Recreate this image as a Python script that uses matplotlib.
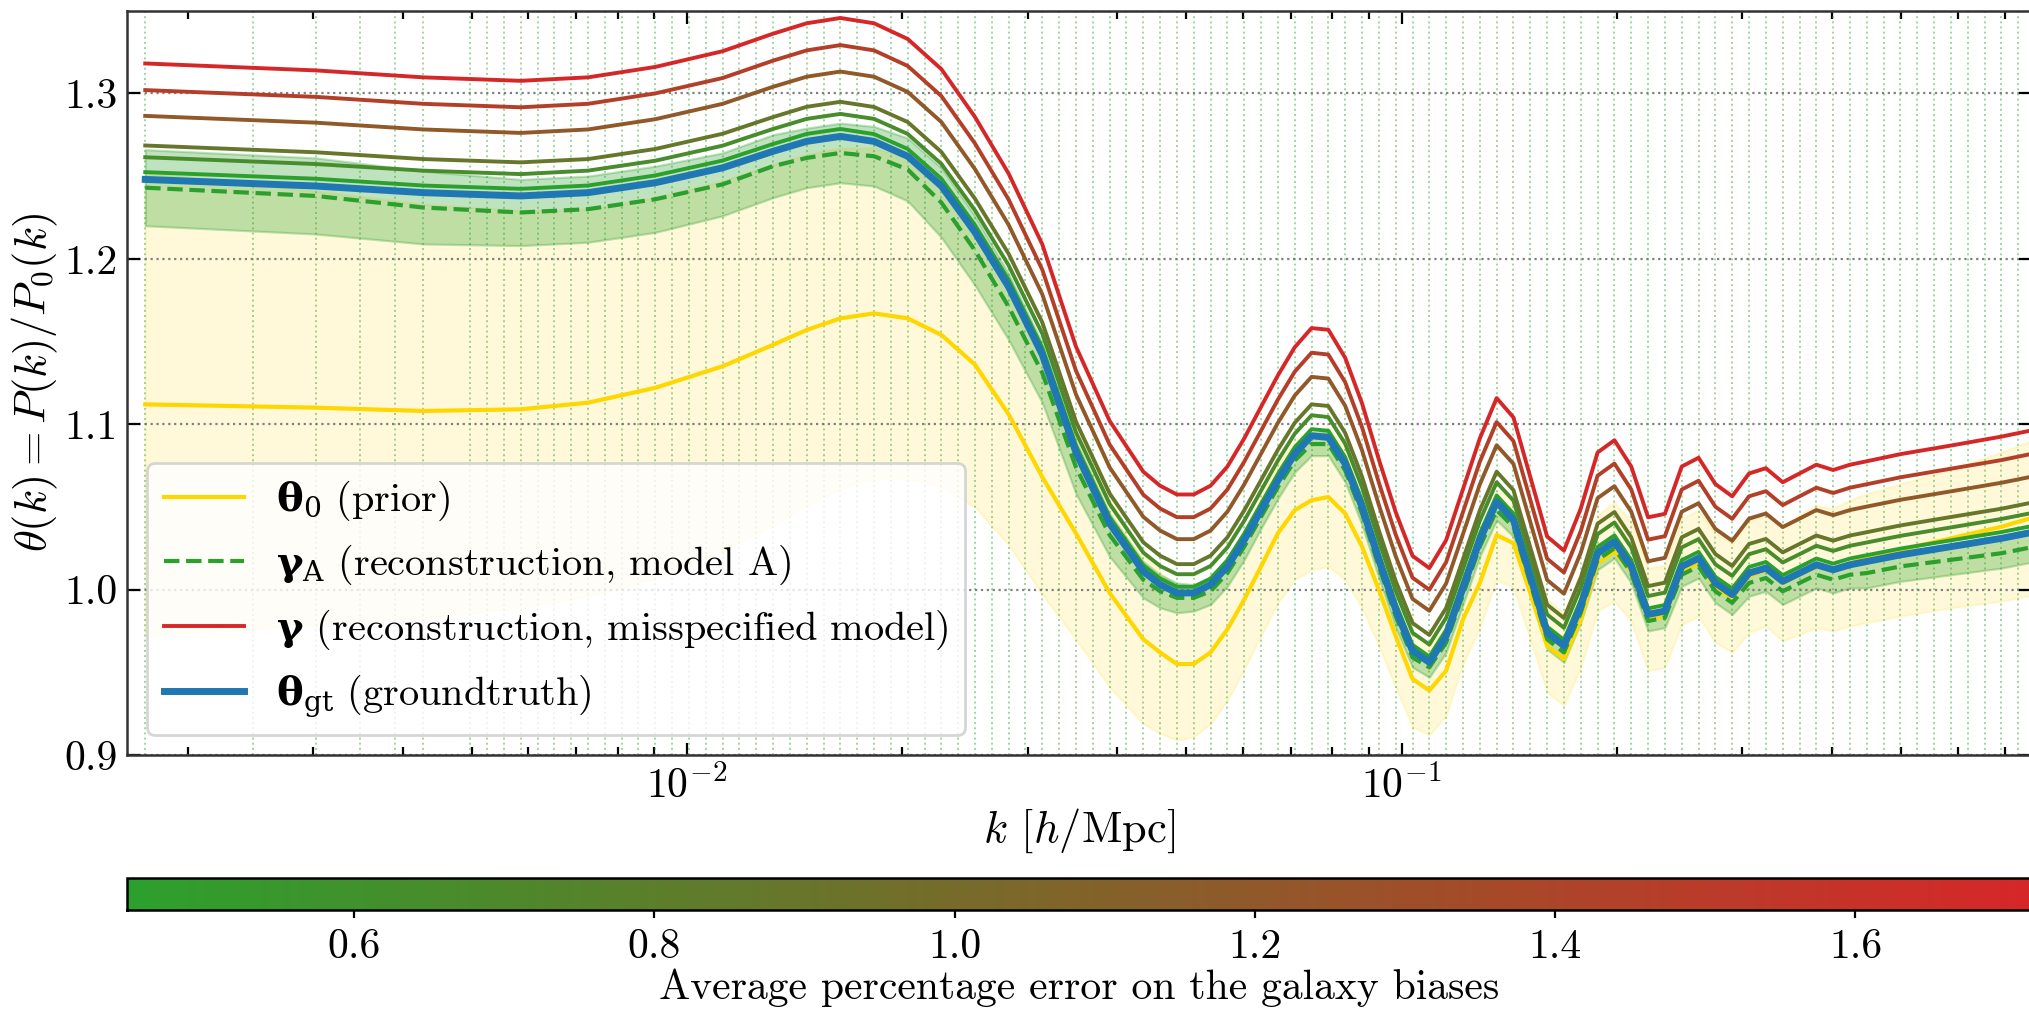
import numpy as np
import matplotlib.pyplot as plt
from matplotlib.colors import LinearSegmentedColormap, Normalize
from matplotlib.cm import ScalarMappable
from matplotlib.ticker import FormatStrFormatter

plt.rcParams['font.family'] = 'serif'
plt.rcParams['font.serif'] = ['cmr10']
plt.rcParams['mathtext.fontset'] = 'cm'
plt.rcParams['axes.formatter.use_mathtext'] = True

# k-bins of the power spectrum (h/Mpc), every bin gets a dotted guide line
k_grid = [0.001745, 0.002468, 0.003023, 0.003491, 0.003903, 0.004275,
          0.004973, 0.005250, 0.005543, 0.005852, 0.006178, 0.006522, 0.006885, 0.007269, 0.007674, 0.008101,
          0.008553, 0.009029, 0.009532, 0.010063, 0.010624, 0.011216, 0.011841, 0.012501, 0.013197, 0.013933,
          0.014709, 0.015529, 0.016394, 0.017308, 0.018272, 0.019290, 0.020365, 0.021500, 0.022698, 0.023963,
          0.025298, 0.026708, 0.028196, 0.029767, 0.031426, 0.033177, 0.035026, 0.036978, 0.039038, 0.041213,
          0.043510, 0.045934, 0.048494, 0.051196, 0.054049, 0.057061, 0.060240, 0.063597, 0.067141, 0.070882,
          0.074832, 0.079002, 0.083404, 0.088052, 0.092958, 0.098138, 0.103607, 0.109380, 0.115475, 0.121910,
          0.128703, 0.135875, 0.143446, 0.151439, 0.159878, 0.168787, 0.178192, 0.188122, 0.198604, 0.209671,
          0.221355, 0.233690, 0.246712, 0.260459, 0.274973, 0.290295, 0.306471, 0.323549, 0.341578, 0.360612,
          0.380707, 0.401921, 0.424317, 0.447961, 0.472923, 0.499276, 0.527097, 0.556468, 0.587476, 0.620212,
          0.654772, 0.691258, 0.729777, 0.770442]

# k values where the curves are drawn
k = [0.001745, 0.003023, 0.004275, 0.005852, 0.007269, 0.009029, 0.011216, 0.013197, 0.014709, 0.016394,
     0.018272, 0.020365, 0.022698, 0.025298, 0.028196, 0.031426, 0.035026, 0.039038, 0.043510, 0.045934,
     0.048494, 0.051196, 0.054049, 0.057061, 0.060240, 0.063597, 0.067141, 0.070882, 0.074832, 0.079002,
     0.083404, 0.088052, 0.092958, 0.098138, 0.103607, 0.109380, 0.115475, 0.121910, 0.128703, 0.135875,
     0.143446, 0.151439, 0.159878, 0.168787, 0.178192, 0.188122, 0.198604, 0.209671, 0.221355, 0.233690,
     0.246712, 0.260459, 0.274973, 0.290295, 0.306471, 0.323549, 0.341578, 0.360612, 0.380707, 0.401921,
     0.424317, 0.447961, 0.499276, 0.587476, 0.691258, 0.770442]

theta_gt = [1.248, 1.244, 1.240, 1.238, 1.240, 1.246, 1.255, 1.265, 1.271, 1.274, 1.271, 1.262, 1.244, 1.216, 1.183,
            1.142, 1.083, 1.040, 1.011, 1.003, 0.998, 0.998, 1.003, 1.014, 1.030, 1.048, 1.066, 1.082, 1.093, 1.092,
            1.076, 1.050, 1.018, 0.988, 0.963, 0.956, 0.972, 1.001, 1.030, 1.053, 1.042, 1.008, 0.974, 0.966, 0.990,
            1.022, 1.029, 1.014, 0.985, 0.987, 1.014, 1.019, 1.004, 0.997, 1.010, 1.013, 1.005, 1.010, 1.015, 1.012,
            1.015, 1.017, 1.021, 1.026, 1.031, 1.035]

theta_prior = [1.112, 1.110, 1.108, 1.109, 1.113, 1.122, 1.135, 1.148, 1.157, 1.164, 1.167, 1.164, 1.154, 1.136, 1.106,
               1.068, 1.034, 0.998, 0.970, 0.962, 0.955, 0.955, 0.962, 0.976, 0.994, 1.014, 1.034, 1.048, 1.054, 1.056,
               1.046, 1.026, 1.000, 0.972, 0.946, 0.939, 0.951, 0.982, 1.004, 1.033, 1.028, 0.998, 0.966, 0.958, 0.982,
               1.016, 1.023, 1.011, 0.982, 0.984, 1.011, 1.016, 1.001, 0.995, 1.008, 1.012, 1.004, 1.009, 1.014, 1.012,
               1.016, 1.019, 1.024, 1.031, 1.038, 1.044]

prior_std = [0.140, 0.131, 0.125, 0.120, 0.117, 0.115, 0.112, 0.109, 0.106, 0.103, 0.100, 0.097, 0.092, 0.086, 0.079,
             0.071, 0.064, 0.057, 0.051, 0.049, 0.046, 0.044, 0.043, 0.043, 0.042, 0.042, 0.042, 0.042, 0.042, 0.042,
             0.040, 0.037, 0.034, 0.031, 0.029, 0.027, 0.027, 0.027, 0.027, 0.027, 0.027, 0.028, 0.028, 0.028, 0.029,
             0.029, 0.030, 0.030, 0.031, 0.031, 0.032, 0.032, 0.033, 0.033, 0.034, 0.034, 0.035, 0.036, 0.037, 0.037,
             0.038, 0.039, 0.040, 0.042, 0.045, 0.047]

gamma_A = [1.243, 1.238, 1.231, 1.228, 1.230, 1.236, 1.245, 1.256, 1.261, 1.264, 1.262, 1.254, 1.234, 1.205, 1.171,
           1.131, 1.074, 1.033, 1.006, 0.999, 0.995, 0.995, 0.999, 1.010, 1.026, 1.044, 1.062, 1.078, 1.088, 1.088,
           1.072, 1.046, 1.014, 0.984, 0.959, 0.953, 0.968, 0.997, 1.026, 1.048, 1.038, 1.004, 0.970, 0.962, 0.986,
           1.018, 1.025, 1.010, 0.981, 0.983, 1.009, 1.014, 0.999, 0.992, 1.004, 1.007, 0.999, 1.004, 1.009, 1.006,
           1.009, 1.010, 1.014, 1.018, 1.022, 1.026]

gamma_A_std = [0.023, 0.023, 0.022, 0.020, 0.020, 0.020, 0.019, 0.019, 0.018, 0.018, 0.018, 0.019, 0.021, 0.021, 0.020,
               0.018, 0.016, 0.013, 0.011, 0.010, 0.009, 0.008, 0.008, 0.008, 0.008, 0.007, 0.007, 0.007, 0.007, 0.007,
               0.007, 0.007, 0.007, 0.007, 0.006, 0.006, 0.006, 0.006, 0.006, 0.006, 0.006, 0.006, 0.006, 0.006, 0.006,
               0.006, 0.006, 0.006, 0.006, 0.006, 0.007, 0.007, 0.007, 0.007, 0.008, 0.008, 0.008, 0.008, 0.008, 0.008,
               0.008, 0.009, 0.009, 0.009, 0.009, 0.009]

# reconstructions with misspecified galaxy biases, one per bias error level (%)
bias_errors = [0.449, 0.66, 0.88, 1.20, 1.46, 1.717]

gamma_e045 = [1.2524, 1.2484, 1.2443, 1.2423, 1.2443, 1.2504, 1.2594, 1.2694, 1.2755, 1.2785, 1.2754, 1.2664, 1.2484, 1.2203, 1.1873,
              1.1461, 1.0870, 1.0438, 1.0147, 1.0067, 1.0017, 1.0017, 1.0067, 1.0178, 1.0338, 1.0519, 1.0699, 1.0860, 1.0970, 1.0960,
              1.0800, 1.0539, 1.0218, 0.9917, 0.9666, 0.9595, 0.9756, 1.0047, 1.0338, 1.0569, 1.0459, 1.0117, 0.9776, 0.9696, 0.9937,
              1.0258, 1.0328, 1.0178, 0.9886, 0.9907, 1.0178, 1.0228, 1.0077, 1.0007, 1.0137, 1.0167, 1.0087, 1.0137, 1.0188, 1.0157,
              1.0188, 1.0208, 1.0248, 1.0298, 1.0348, 1.0388]

gamma_e066 = [1.2614, 1.2573, 1.2533, 1.2512, 1.2533, 1.2593, 1.2684, 1.2785, 1.2846, 1.2876, 1.2846, 1.2755, 1.2574, 1.2293, 1.1960,
              1.1547, 1.0951, 1.0518, 1.0224, 1.0143, 1.0093, 1.0093, 1.0143, 1.0255, 1.0416, 1.0598, 1.0780, 1.0942, 1.1054, 1.1043,
              1.0882, 1.0619, 1.0295, 0.9992, 0.9739, 0.9668, 0.9830, 1.0123, 1.0416, 1.0649, 1.0538, 1.0194, 0.9850, 0.9769, 1.0012,
              1.0335, 1.0406, 1.0255, 0.9961, 0.9982, 1.0255, 1.0305, 1.0153, 1.0083, 1.0214, 1.0244, 1.0164, 1.0214, 1.0265, 1.0234,
              1.0265, 1.0285, 1.0325, 1.0376, 1.0427, 1.0467]

gamma_e088 = [1.2685, 1.2644, 1.2603, 1.2583, 1.2603, 1.2664, 1.2756, 1.2857, 1.2919, 1.2949, 1.2918, 1.2827, 1.2646, 1.2363, 1.2030,
              1.1615, 1.1016, 1.0581, 1.0286, 1.0205, 1.0154, 1.0154, 1.0205, 1.0316, 1.0479, 1.0662, 1.0845, 1.1008, 1.1120, 1.1110,
              1.0947, 1.0683, 1.0357, 1.0052, 0.9798, 0.9726, 0.9889, 1.0184, 1.0479, 1.0713, 1.0601, 1.0255, 0.9909, 0.9828, 1.0072,
              1.0398, 1.0469, 1.0316, 1.0021, 1.0042, 1.0316, 1.0367, 1.0215, 1.0143, 1.0276, 1.0306, 1.0225, 1.0276, 1.0327, 1.0296,
              1.0327, 1.0347, 1.0388, 1.0439, 1.0489, 1.0530]

gamma_e120 = [1.2864, 1.2823, 1.2782, 1.2761, 1.2782, 1.2844, 1.2937, 1.3040, 1.3101, 1.3132, 1.3101, 1.3009, 1.2827, 1.2542, 1.2205,
              1.1785, 1.1180, 1.0739, 1.0440, 1.0357, 1.0305, 1.0305, 1.0357, 1.0471, 1.0636, 1.0822, 1.1008, 1.1173, 1.1286, 1.1276,
              1.1111, 1.0842, 1.0512, 1.0202, 0.9944, 0.9872, 1.0037, 1.0336, 1.0636, 1.0873, 1.0760, 1.0409, 1.0058, 0.9975, 1.0223,
              1.0553, 1.0625, 1.0471, 1.0171, 1.0192, 1.0471, 1.0522, 1.0367, 1.0295, 1.0429, 1.0460, 1.0378, 1.0429, 1.0481, 1.0450,
              1.0481, 1.0502, 1.0543, 1.0594, 1.0646, 1.0687]

gamma_e146 = [1.3020, 1.2979, 1.2937, 1.2916, 1.2937, 1.3000, 1.3093, 1.3198, 1.3260, 1.3292, 1.3260, 1.3166, 1.2984, 1.2697, 1.2358,
              1.1934, 1.1323, 1.0877, 1.0574, 1.0490, 1.0438, 1.0438, 1.0490, 1.0605, 1.0773, 1.0961, 1.1149, 1.1317, 1.1432, 1.1421,
              1.1254, 1.0982, 1.0647, 1.0333, 1.0072, 0.9999, 1.0166, 1.0469, 1.0773, 1.1013, 1.0898, 1.0543, 1.0187, 1.0103, 1.0354,
              1.0689, 1.0762, 1.0605, 1.0302, 1.0323, 1.0605, 1.0658, 1.0501, 1.0428, 1.0564, 1.0595, 1.0511, 1.0564, 1.0616, 1.0584,
              1.0616, 1.0637, 1.0679, 1.0731, 1.0783, 1.0825]

gamma_e172 = [1.3181, 1.3139, 1.3097, 1.3076, 1.3097, 1.3160, 1.3255, 1.3361, 1.3424, 1.3456, 1.3424, 1.3329, 1.3147, 1.2857, 1.2515,
              1.2087, 1.1469, 1.1020, 1.0713, 1.0628, 1.0575, 1.0575, 1.0628, 1.0744, 1.0914, 1.1105, 1.1295, 1.1465, 1.1581, 1.1571,
              1.1401, 1.1126, 1.0787, 1.0469, 1.0204, 1.0130, 1.0299, 1.0607, 1.0914, 1.1158, 1.1041, 1.0681, 1.0321, 1.0236, 1.0490,
              1.0829, 1.0903, 1.0744, 1.0437, 1.0458, 1.0744, 1.0797, 1.0638, 1.0564, 1.0702, 1.0734, 1.0649, 1.0702, 1.0755, 1.0723,
              1.0755, 1.0776, 1.0819, 1.0871, 1.0925, 1.0967]

misspecified = [gamma_e045, gamma_e066, gamma_e088, gamma_e120, gamma_e146, gamma_e172]

cmap = LinearSegmentedColormap.from_list('green_red', ['#2ca02c', '#d62728'])
norm = Normalize(vmin=min(bias_errors), vmax=max(bias_errors))

fig = plt.figure(figsize=(2029 / 200, 1010 / 200), dpi=200)
ax = fig.add_axes([0.06274, 0.25248, 0.9383, 0.73693])

for kb in k_grid:
    ax.axvline(kb, color='#2ca02c', ls=':', lw=0.7, alpha=0.45, zorder=1.6)

prior = np.array(theta_prior)
sig_p = np.array(prior_std)
gA = np.array(gamma_A)
sig_A = np.array(gamma_A_std)

ax.fill_between(k, prior - sig_p, prior + sig_p, color='gold', alpha=0.15, lw=0.8, zorder=1)
ax.fill_between(k, gA - sig_A, gA + sig_A, color='#2ca02c', alpha=0.3, lw=0.8, zorder=1.1)

ax.plot(k, theta_prior, color='gold', lw=1.5, label=r'$\mathbf{\theta}_0$ (prior)')
ax.plot(k, gamma_A, color='#2ca02c', lw=1.5, ls='--', zorder=2.6,
        label=r'$\mathbf{\gamma}_\mathrm{A}$ (reconstruction, model A)')
for err, curve in zip(bias_errors, misspecified):
    lab = r'$\mathbf{\gamma}$ (reconstruction, misspecified model)' if err == max(bias_errors) else None
    ax.plot(k, curve, color=cmap(norm(err)), lw=1.4, label=lab)
ax.plot(k, theta_gt, color='#1f77b4', lw=2.5, zorder=3, label=r'$\mathbf{\theta}_\mathrm{gt}$ (groundtruth)')

ax.set_xscale('log')
ax.set_xlim(0.001647, 0.7606)
ax.set_ylim(0.9, 1.35)
ax.set_yticks([0.9, 1.0, 1.1, 1.2, 1.3])
ax.yaxis.set_major_formatter(FormatStrFormatter('%.1f'))
ax.grid(axis='y', ls=':', color='gray', lw=0.8)
ax.tick_params(which='both', direction='in', top=True, right=True, labelsize=15)
ax.tick_params(which='major', length=4.5, width=0.8)
ax.tick_params(which='minor', length=3, width=0.8)
for sp in ax.spines.values():
    sp.set_linewidth(0.9)
    sp.set_color('#333333')

ax.set_xlabel(r'$k$ [$h$/Mpc]', fontsize=16, labelpad=0.5)
ax.set_ylabel(r'$\theta(k) = P(k)/P_0(k)$', fontsize=16, labelpad=1.5)

leg = ax.legend(loc='lower left', fontsize=14.5, framealpha=0.8, edgecolor='#cccccc', labelspacing=0.5)
for t in leg.get_texts():
    t.set_math_fontfamily('dejavuserif')

cax = fig.add_axes([0.06274, 0.0990, 0.9383, 0.0314])
cb = fig.colorbar(ScalarMappable(norm=norm, cmap=cmap), cax=cax, orientation='horizontal')
cb.set_ticks([0.6, 0.8, 1.0, 1.2, 1.4, 1.6])
cb.ax.xaxis.set_major_formatter(FormatStrFormatter('%.1f'))
cb.ax.tick_params(labelsize=15, length=3)
cb.outline.set_linewidth(0.9)
cb.set_label('Average percentage error on the galaxy biases', fontsize=15, labelpad=1)

fig.savefig('out.png', dpi=200)
